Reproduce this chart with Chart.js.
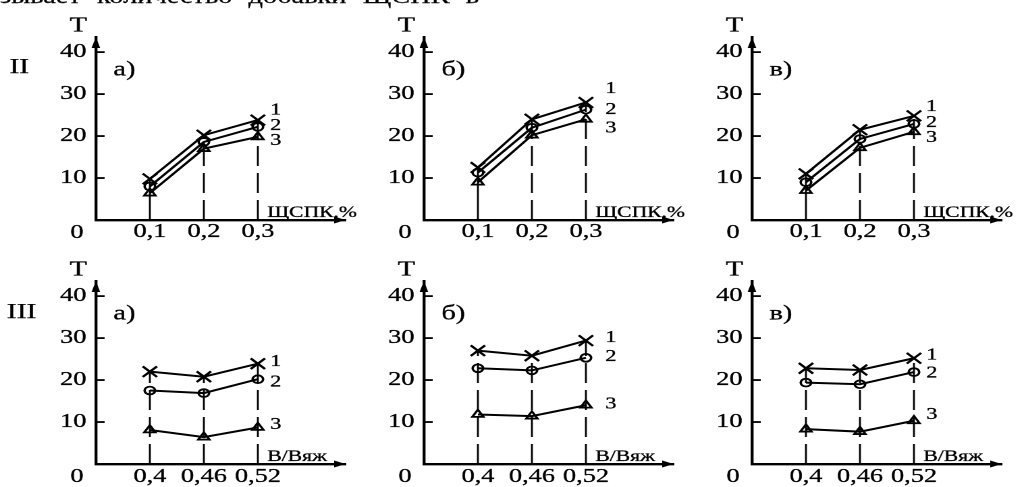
<!DOCTYPE html>
<html>
<head>
<meta charset="utf-8">
<script src="https://cdn.jsdelivr.net/npm/chart.js@4.4.1/dist/chart.umd.min.js"></script>
<style>
  html, body { margin: 0; padding: 0; background: #fff; overflow: hidden; }
  body { width: 1020px; height: 487px; position: relative; }
  /* the scanned figure is stretched sideways, so the whole page is too */
  #page { position: absolute; left: 0; top: 0; width: 756px; height: 487px;
          transform: scaleX(1.35); transform-origin: 0 0;
          font-family: "Liberation Serif", "DejaVu Serif", serif; color: #000;
          -webkit-text-stroke: 0.25px #000; }
  #lead { position: absolute; left: 0; top: -14px; width: 355px; font-size: 21px;
          line-height: 20px; display: flex; justify-content: space-between; white-space: nowrap; }
  .row { position: absolute; font-size: 22px; line-height: 22px; }
  canvas { position: absolute; }
</style>
</head>
<body>
<div id="page">
  <div id="lead"><span>зывает</span><span>количество</span><span>добавки</span><span>ЩСПК</span><span>в</span></div>
  <div class="row" id="row0" style="left:7px; top:55px"></div>
  <div class="row" id="row1" style="left:5px; top:300px"></div>
  <canvas id="c0" width="280" height="243" style="left:0px; top:0px"></canvas>
  <canvas id="c1" width="280" height="243" style="left:243px; top:0px"></canvas>
  <canvas id="c2" width="280" height="243" style="left:486px; top:0px"></canvas>
  <canvas id="c3" width="280" height="243" style="left:0px; top:244px"></canvas>
  <canvas id="c4" width="280" height="243" style="left:243px; top:244px"></canvas>
  <canvas id="c5" width="280" height="243" style="left:486px; top:244px"></canvas>
</div>
<script>
// x values
const xShare = [0.1, 0.2, 0.3];     // ЩСПК,%
const xRatio = [0.4, 0.46, 0.52];   // В/Вяж
const xTitles = ['ЩСПК,%', 'В/Вяж'];
const yTicks = [10, 20, 30, 40];
const curveNames = ['1', '2', '3'];
const panelLetters = ['а)', 'б)', 'в)'];
const rowNames = ['II', 'III'];

// row II, T vs ЩСПК
const IIa1 = [9.8, 20.2, 23.8];
const IIa2 = [8.0, 18.6, 22.2];
const IIa3 = [6.4, 17.0, 19.8];
const IIb1 = [12.5, 24.0, 28.0];
const IIb2 = [11.3, 22.0, 26.3];
const IIb3 = [9.0, 20.2, 24.0];
const IIv1 = [11.0, 21.5, 24.8];
const IIv2 = [9.0, 19.3, 22.9];
const IIv3 = [7.0, 17.2, 21.0];

// row III, T vs В/Вяж
const IIIa1 = [22.0, 20.8, 23.9];
const IIIa2 = [17.5, 16.9, 20.2];
const IIIa3 = [8.1, 6.4, 8.7];
const IIIb1 = [27.0, 25.8, 29.4];
const IIIb2 = [22.8, 22.3, 25.3];
const IIIb3 = [11.8, 11.4, 14.0];
const IIIv1 = [22.8, 22.4, 25.2];
const IIIv2 = [19.4, 19.0, 21.9];
const IIIv3 = [8.3, 7.7, 10.3];

const FONT = '"Liberation Serif", "DejaVu Serif", serif';
const INK = 0.3; // scan makes the print look a bit heavier

document.getElementById('row0').textContent = rowNames[0];
document.getElementById('row1').textContent = rowNames[1];

const markers = [
  { pointStyle: 'crossRot', pointRadius: 7.5, pointBorderWidth: 2 },
  { pointStyle: 'circle', pointRadius: 3.9, pointBorderWidth: 1.8 },
  { pointStyle: 'triangle', pointRadius: 4.8, pointBorderWidth: 1.8 },
];

// where the curve numbers sit next to the last points
const panels = [
  { id: 'c0', row: 0, letter: 0, series: [IIa1, IIa2, IIa3], dx: 13.3, dy: [-10, -1, 4] },
  { id: 'c1', row: 0, letter: 1, series: [IIb1, IIb2, IIb3], dx: 18.5, dy: [-14, 0, 9] },
  { id: 'c2', row: 0, letter: 2, series: [IIv1, IIv2, IIv3], dx: 13.0, dy: [-9, -1, 6] },
  { id: 'c3', row: 1, letter: 0, series: [IIIa1, IIIa2, IIIa3], dx: 13.3, dy: [-2, 3, -3] },
  { id: 'c4', row: 1, letter: 1, series: [IIIb1, IIIb2, IIIb3], dx: 18.5, dy: [-3, -1, -1] },
  { id: 'c5', row: 1, letter: 2, series: [IIIv1, IIIv2, IIIv3], dx: 13.3, dy: [-3, 1, -6] },
];

function text(ctx, s, x, y) {
  ctx.fillText(s, x, y);
  ctx.strokeText(s, x, y);
}

const decor = {
  id: 'decor',
  beforeDatasetsDraw(chart, args, o) {
    const { ctx, scales: { x, y } } = chart;
    const sets = chart.data.datasets;
    ctx.save();
    ctx.strokeStyle = '#000';
    ctx.lineWidth = 1.4;
    o.xs.forEach((v, i) => {
      const top = Math.max(...sets.map((d) => d.data[i].y));
      ctx.setLineDash(i === 0 && o.solidFirst ? [] : [20, 7]);
      ctx.beginPath();
      ctx.moveTo(x.getPixelForValue(v), y.getPixelForValue(0));
      ctx.lineTo(x.getPixelForValue(v), y.getPixelForValue(top));
      ctx.stroke();
    });
    ctx.restore();
  },
  afterDraw(chart, args, o) {
    const { ctx, chartArea: a, scales: { x, y } } = chart;
    ctx.save();
    ctx.fillStyle = '#000';
    ctx.strokeStyle = '#000';

    // arrow heads
    ctx.beginPath();
    ctx.moveTo(a.left, a.top);
    ctx.lineTo(a.left - 3.2, a.top + 11);
    ctx.lineTo(a.left + 3.2, a.top + 11);
    ctx.closePath();
    ctx.fill();
    ctx.beginPath();
    ctx.moveTo(a.right, a.bottom);
    ctx.lineTo(a.right - 8.5, a.bottom - 3.5);
    ctx.lineTo(a.right - 8.5, a.bottom + 3.5);
    ctx.closePath();
    ctx.fill();

    // tick marks on the inner side of the y axis
    ctx.lineWidth = 1.8;
    y.ticks.forEach((t) => {
      const py = y.getPixelForValue(t.value);
      ctx.beginPath();
      ctx.moveTo(a.left, py);
      ctx.lineTo(a.left + 6.5, py);
      ctx.stroke();
    });

    ctx.lineWidth = INK;
    const p40 = y.getPixelForValue(40);
    ctx.font = '21px ' + FONT;
    ctx.textAlign = 'center';
    ctx.textBaseline = 'middle';
    text(ctx, 'Т', a.left - 13, p40 - 26);
    ctx.font = '19.5px ' + FONT;
    text(ctx, '0', a.left - 14, a.bottom + 13);

    ctx.font = '21px ' + FONT;
    ctx.textAlign = 'left';
    text(ctx, o.letter, a.left + 13, p40 + 18);

    ctx.font = '16px ' + FONT;
    ctx.textBaseline = 'alphabetic';
    text(ctx, o.title, a.left + 127, a.bottom - 3);

    ctx.font = '16.5px ' + FONT;
    ctx.textAlign = 'center';
    ctx.textBaseline = 'middle';
    chart.data.datasets.forEach((d, k) => {
      const last = d.data[d.data.length - 1];
      text(ctx, d.label, x.getPixelForValue(last.x) + o.dx, y.getPixelForValue(last.y) + o.dy[k]);
    });
    ctx.restore();
  },
};

function makePanel(p) {
  const xs = p.row === 0 ? xShare : xRatio;
  const xMin = p.row === 0 ? 0 : 0.34;
  const xMax = xMin + (xs[1] - xs[0]) * 185 / 40;
  const datasets = p.series.map((s, k) => ({
    label: curveNames[k],
    data: xs.map((v, i) => ({ x: v, y: s[i] })),
    borderColor: '#000',
    borderWidth: 2,
    pointBorderColor: '#000',
    pointBackgroundColor: 'rgba(0,0,0,0)',
    tension: 0,
    clip: false,
    ...markers[k],
  }));
  return new Chart(document.getElementById(p.id), {
    type: 'line',
    data: { datasets },
    options: {
      responsive: false,
      animation: false,
      devicePixelRatio: 2,
      layout: { padding: { top: 37, right: 280 - 256, left: 0, bottom: 0 } },
      plugins: {
        legend: { display: false },
        tooltip: { enabled: false },
        decor: {
          xs,
          solidFirst: p.row === 0,
          letter: panelLetters[p.letter],
          title: xTitles[p.row],
          dx: p.dx,
          dy: p.dy,
        },
      },
      scales: {
        x: {
          type: 'linear',
          min: xMin,
          max: xMax,
          afterBuildTicks: (s) => { s.ticks = xs.map((v) => ({ value: v })); },
          afterFit: (s) => { s.height = 23; },
          grid: { display: false, drawTicks: false },
          border: { display: true, color: '#000', width: 2.4 },
          ticks: {
            autoSkip: false,
            maxRotation: 0,
            padding: p.row === 0 ? 0 : 1,
            color: '#000',
            textStrokeColor: '#000',
            textStrokeWidth: INK,
            font: { family: FONT, size: 19.5 },
            callback: (v) => String(v).replace('.', ','),
          },
        },
        y: {
          type: 'linear',
          min: 0,
          max: 43.6,
          afterBuildTicks: (s) => { s.ticks = yTicks.map((v) => ({ value: v })); },
          afterFit: (s) => { s.width = 71; },
          grid: { display: false, drawTicks: false },
          border: { display: true, color: '#000', width: 2.2 },
          ticks: {
            padding: 7,
            color: '#000',
            textStrokeColor: '#000',
            textStrokeWidth: INK,
            font: { family: FONT, size: 19.5 },
          },
        },
      },
    },
    plugins: [decor],
  });
}

panels.forEach(makePanel);
</script>
</body>
</html>
